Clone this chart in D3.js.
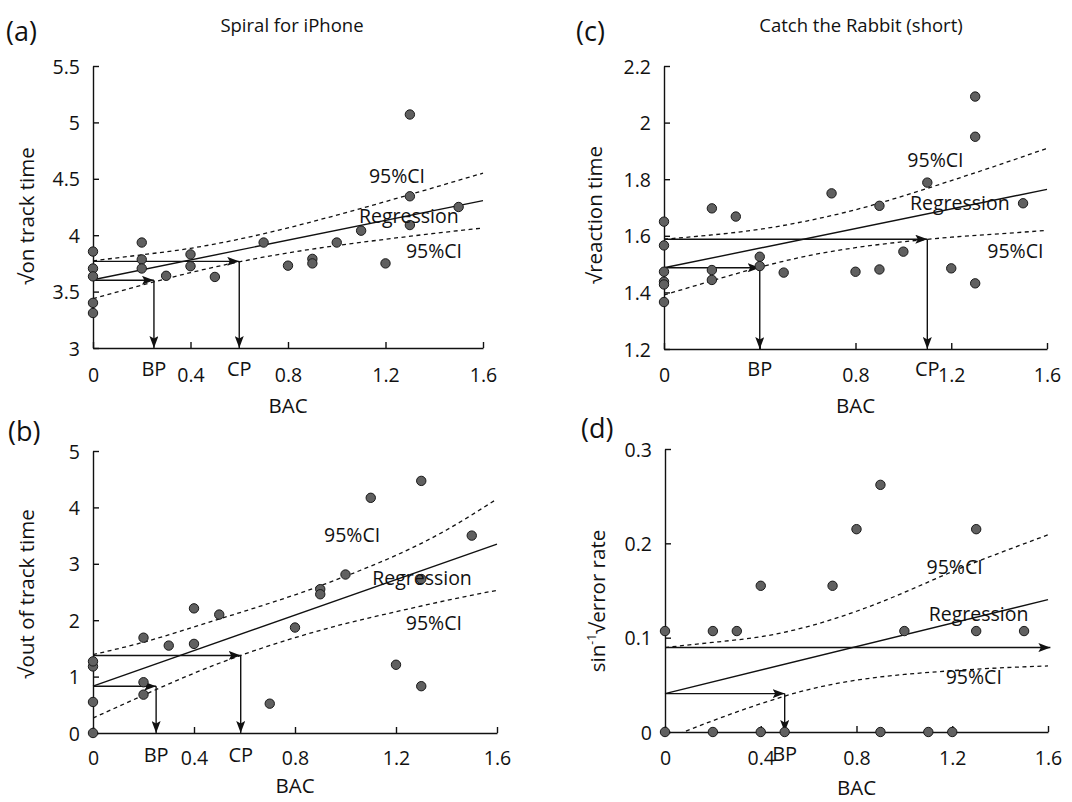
<!DOCTYPE html>
<html>
<head>
<meta charset="utf-8">
<script src="https://cdn.jsdelivr.net/npm/d3@7"></script>
<style>
  body { margin: 0; background: #fff; }
  svg text { font-family: "Open Sans", "Liberation Sans", sans-serif; fill: #111; }
</style>
</head>
<body>
<script>
// values
const ciBAC = [0, 0.2, 0.4, 0.6, 0.8, 1.0, 1.2, 1.4, 1.6];
const fitBAC = [0, 1.6];
const xTicks = [0, 0.4, 0.8, 1.2, 1.6];

// (a) Spiral for iPhone - sqrt on track time
const aBAC = [0, 0, 0, 0, 0, 0.2, 0.2, 0.2, 0.3, 0.4, 0.4, 0.5, 0.7, 0.8, 0.9, 0.9, 1.0, 1.1, 1.2, 1.3, 1.3, 1.3, 1.5];
const aOnTrack = [3.855, 3.705, 3.635, 3.40, 3.31, 3.935, 3.785, 3.705, 3.64, 3.83, 3.725, 3.63, 3.935, 3.73, 3.79, 3.75, 3.935, 4.04, 3.75, 5.07, 4.345, 4.09, 4.25];
const aFit = [3.605, 4.307];
const aUpper = [3.773, 3.826, 3.884, 3.965, 4.065, 4.178, 4.298, 4.423, 4.55];
const aLower = [3.437, 3.557, 3.668, 3.764, 3.843, 3.908, 3.964, 4.016, 4.064];
const aArrowBAC = [0.25, 0.6];
const aArrowLevel = [3.600, 3.768];
const aArrowLabel = ["BP", "CP"];

// (b) Spiral for iPhone - sqrt out of track time
const bBAC = [0, 0, 0, 0, 0.2, 0.2, 0.2, 0.3, 0.4, 0.4, 0.5, 0.7, 0.8, 0.9, 0.9, 1.0, 1.1, 1.2, 1.3, 1.3, 1.3, 1.5];
const bOffTrack = [0, 0.55, 1.18, 1.27, 1.69, 0.90, 0.68, 1.55, 2.21, 1.58, 2.10, 0.52, 1.87, 2.55, 2.46, 2.81, 4.17, 1.21, 4.47, 2.73, 0.83, 3.50];
const bFit = [0.83, 3.35];
const bUpper = [1.39, 1.61, 1.88, 2.16, 2.45, 2.78, 3.15, 3.60, 4.15];
const bLower = [0.265, 0.67, 1.06, 1.40, 1.69, 1.94, 2.15, 2.35, 2.53];
const bArrowBAC = [0.25, 0.585];
const bArrowLevel = [0.83, 1.375];
const bArrowLabel = ["BP", "CP"];

// (c) Catch the Rabbit (short) - sqrt reaction time
const cBAC = [0, 0, 0, 0, 0, 0, 0.2, 0.2, 0.2, 0.3, 0.4, 0.4, 0.5, 0.7, 0.8, 0.9, 0.9, 1.0, 1.1, 1.2, 1.3, 1.3, 1.3, 1.5];
const cReaction = [1.650, 1.566, 1.473, 1.438, 1.428, 1.366, 1.697, 1.479, 1.444, 1.668, 1.526, 1.493, 1.470, 1.750, 1.473, 1.706, 1.481, 1.544, 1.788, 1.485, 2.092, 1.950, 1.432, 1.715];
const cFit = [1.487, 1.764];
const cUpper = [1.588, 1.603, 1.623, 1.653, 1.692, 1.741, 1.795, 1.851, 1.909];
const cLower = [1.391, 1.441, 1.489, 1.529, 1.558, 1.579, 1.595, 1.607, 1.619];
const cArrowBAC = [0.4, 1.1];
const cArrowLevel = [1.487, 1.588];
const cArrowLabel = ["BP", "CP"];

// (d) Catch the Rabbit (short) - arcsin sqrt error rate
const dBAC = [0, 0, 0.2, 0.2, 0.3, 0.4, 0.4, 0.5, 0.7, 0.8, 0.9, 0.9, 1.0, 1.1, 1.2, 1.3, 1.3, 1.5];
const dError = [0.107, 0, 0.107, 0, 0.107, 0.155, 0, 0, 0.155, 0.215, 0.262, 0, 0.107, 0, 0, 0.215, 0.107, 0.107];
const dFit = [0.0407, 0.1404];
const dUpper = [0.0895, 0.095, 0.101, 0.112, 0.128, 0.148, 0.170, 0.190, 0.209];
const dLower = [-0.008, 0.012, 0.030, 0.045, 0.055, 0.061, 0.065, 0.068, 0.070];
const dArrowBAC = [0.5, 1.61];
const dArrowLevel = [0.0407, 0.0895];
const dArrowLabel = ["BP", ""];

const panels = [
  { tag: "(a)", tagPos: [6, 41], title: "Spiral for iPhone", titlePos: [292, 32],
    ylab: "on track time", ylabPos: [34, 216],
    px: [93, 483], py: [348, 66], yDomain: [3, 5.5], yTicks: [3, 3.5, 4, 4.5, 5, 5.5],
    xLabels: ["0", "0.4", "0.8", "1.2", "1.6"], tickBase: 382, bpBase: 376, bacBase: 413,
    bac: aBAC, val: aOnTrack, fit: aFit, upper: aUpper, lower: aLower,
    arrowBAC: aArrowBAC, arrowLevel: aArrowLevel, arrowLabel: aArrowLabel,
    notes: [["95%CI", 1.247, 4.46], ["Regression", 1.296, 4.109], ["95%CI", 1.399, 3.796]] },
  { tag: "(b)", tagPos: [8, 441], title: null,
    ylab: "out of track time", ylabPos: [34, 594],
    px: [93, 497], py: [733, 451], yDomain: [0, 5], yTicks: [0, 1, 2, 3, 4, 5],
    xLabels: ["0", "0.4", "0.8", "1.2", "1.6"], tickBase: 765, bpBase: 762, bacBase: 793,
    bac: bBAC, val: bOffTrack, fit: bFit, upper: bUpper, lower: bLower,
    arrowBAC: bArrowBAC, arrowLevel: bArrowLevel, arrowLabel: bArrowLabel,
    notes: [["95%CI", 1.026, 3.39], ["Regression", 1.303, 2.625], ["95%CI", 1.35, 1.83]] },
  { tag: "(c)", tagPos: [576, 41], title: "Catch the Rabbit (short)", titlePos: [861, 32],
    ylab: "reaction time", ylabPos: [602, 215],
    px: [664, 1047], py: [349, 66], yDomain: [1.2, 2.2], yTicks: [1.2, 1.4, 1.6, 1.8, 2, 2.2],
    xLabels: ["0", "", "0.8", "1.2", "1.6"], tickBase: 382, bpBase: 376, bacBase: 413,
    bac: cBAC, val: cReaction, fit: cFit, upper: cUpper, lower: cLower,
    arrowBAC: cArrowBAC, arrowLevel: cArrowLevel, arrowLabel: cArrowLabel,
    notes: [["95%CI", 1.134, 1.843], ["Regression", 1.236, 1.691], ["95%CI", 1.468, 1.522]] },
  { tag: "(d)", tagPos: [581, 438], title: null,
    ylab: "error rate", ylabPos: [605, 601], arcsin: true,
    px: [665, 1048], py: [732, 449], yDomain: [0, 0.3], yTicks: [0, 0.1, 0.2, 0.3],
    xLabels: ["0", "0.4", "0.8", "1.2", "1.6"], tickBase: 765, bpBase: 761, bacBase: 795,
    bac: dBAC, val: dError, fit: dFit, upper: dUpper, lower: dLower,
    arrowBAC: dArrowBAC, arrowLevel: dArrowLevel, arrowLabel: dArrowLabel,
    notes: [["95%CI", 1.21, 0.168], ["Regression", 1.31, 0.1178], ["95%CI", 1.29, 0.0512]] }
];

const svg = d3.select("body").append("svg").attr("width", 1072).attr("height", 802);
const defs = svg.append("defs");
defs.append("marker").attr("id", "arr")
  .attr("viewBox", "0 0 12 9").attr("refX", 12).attr("refY", 4.5)
  .attr("markerWidth", 12).attr("markerHeight", 9)
  .attr("markerUnits", "userSpaceOnUse").attr("orient", "auto")
  .append("path").attr("d", "M0,0 L12,4.5 L0,9 L2.5,4.5 Z").attr("fill", "#111");

panels.forEach((p, i) => {
  const x = d3.scaleLinear().domain([0, 1.6]).range(p.px);
  const y = d3.scaleLinear().domain(p.yDomain).range(p.py);
  const g = svg.append("g");

  defs.append("clipPath").attr("id", "clip" + i).append("rect")
    .attr("x", p.px[0]).attr("y", p.py[1]).attr("width", p.px[1] - p.px[0] + 4).attr("height", p.py[0] - p.py[1]);

  // axes, ticks pointing inward
  const xAxis = g.append("g").attr("transform", `translate(0,${p.py[0]})`)
    .call(d3.axisBottom(x).tickValues(xTicks).tickSizeInner(-6).tickSizeOuter(0)
      .tickFormat((d, k) => p.xLabels[k]));
  xAxis.selectAll("text").attr("y", p.tickBase - p.py[0]).attr("dy", null);

  const yAxis = g.append("g").attr("transform", `translate(${p.px[0]},0)`)
    .call(d3.axisLeft(y).tickValues(p.yTicks).tickSizeInner(-6).tickSizeOuter(0)
      .tickPadding(13).tickFormat(d => String(d)));
  yAxis.selectAll("text").attr("dy", "0.36em");

  g.selectAll(".domain, .tick line").attr("stroke", "#111").attr("stroke-width", 1.4);
  g.selectAll(".tick text").attr("font-size", 19.5).attr("font-family", null);
  g.selectAll("g").attr("font-family", null);

  // 95% CI bands
  const ciLine = d3.line().x((d, k) => x(ciBAC[k])).y(d => y(d)).curve(d3.curveNatural);
  [p.upper, p.lower].forEach(arr => {
    g.append("path").attr("d", ciLine(arr)).attr("clip-path", `url(#clip${i})`)
      .attr("fill", "none").attr("stroke", "#111").attr("stroke-width", 1.3)
      .attr("stroke-dasharray", "4,3.5");
  });

  // regression
  const fitLine = d3.line().x((d, k) => x(fitBAC[k])).y(d => y(d));
  g.append("path").attr("d", fitLine(p.fit)).attr("fill", "none")
    .attr("stroke", "#111").attr("stroke-width", 1.4);

  // BP / CP arrows
  p.arrowBAC.forEach((b, k) => {
    g.append("line").attr("x1", x(0)).attr("x2", x(b))
      .attr("y1", y(p.arrowLevel[k])).attr("y2", y(p.arrowLevel[k]))
      .attr("stroke", "#111").attr("stroke-width", 1.4).attr("marker-end", "url(#arr)");
    if (p.arrowLabel[k]) {
      g.append("line").attr("x1", x(b)).attr("x2", x(b))
        .attr("y1", y(p.arrowLevel[k])).attr("y2", y(p.yDomain[0]))
        .attr("stroke", "#111").attr("stroke-width", 1.4).attr("marker-end", "url(#arr)");
      g.append("text").attr("x", x(b)).attr("y", p.bpBase)
        .attr("text-anchor", "middle").attr("font-size", 20).text(p.arrowLabel[k]);
    }
  });

  // observations
  g.selectAll("circle").data(p.bac).enter().append("circle")
    .attr("cx", d => x(d)).attr("cy", (d, k) => y(p.val[k])).attr("r", 4.7)
    .attr("fill", "#606060").attr("stroke", "#1a1a1a").attr("stroke-width", 1);

  // annotations
  p.notes.forEach(n => {
    g.append("text").attr("x", x(n[1])).attr("y", y(n[2]))
      .attr("text-anchor", "middle").attr("font-size", 19.5).text(n[0]);
  });

  // titles and labels
  g.append("text").attr("x", p.tagPos[0]).attr("y", p.tagPos[1]).attr("font-size", 27).text(p.tag);
  if (p.title) {
    g.append("text").attr("x", p.titlePos[0]).attr("y", p.titlePos[1])
      .attr("text-anchor", "middle").attr("font-size", 18.5).text(p.title);
  }
  g.append("text").attr("x", (p.px[0] + p.px[1]) / 2).attr("y", p.bacBase)
    .attr("text-anchor", "middle").attr("font-size", 20.5).text("BAC");

  const yl = g.append("text").attr("font-size", 20.5).attr("text-anchor", "middle")
    .attr("transform", `translate(${p.ylabPos[0]},${p.ylabPos[1]}) rotate(-90)`);
  if (p.arcsin) {
    yl.append("tspan").text("sin");
    yl.append("tspan").attr("font-size", 12).attr("dy", -9).text("-1");
    yl.append("tspan").attr("dy", 9).text("\u221A" + p.ylab);
  } else {
    yl.text("\u221A" + p.ylab);
  }
});
</script>
</body>
</html>
